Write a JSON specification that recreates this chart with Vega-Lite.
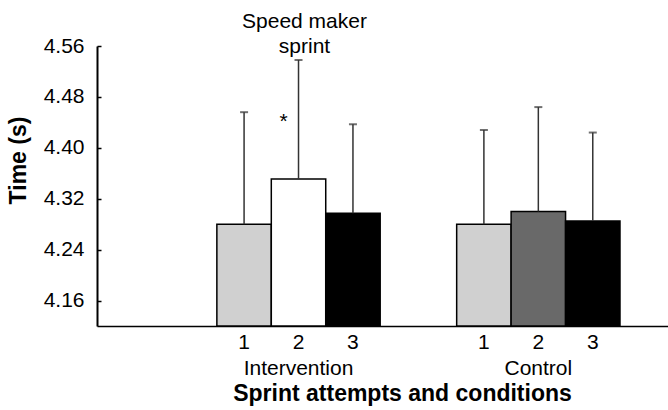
{
  "$schema": "https://vega.github.io/schema/vega-lite/v6.json",
  "autosize": "none",
  "padding": {"left": 97, "top": 46, "right": 0, "bottom": 84},
  "width": 571,
  "height": 280,
  "config": {
    "font": "Liberation Sans",
    "view": {"stroke": null},
    "axis": {"grid": false}
  },
  "data": {
    "values": [
      {"condition": "Intervention", "attempt": "1", "mean": 4.280, "upper": 4.456},
      {"condition": "Intervention", "attempt": "2", "mean": 4.351, "upper": 4.538, "note": "Speed maker\nsprint", "star": "*"},
      {"condition": "Intervention", "attempt": "3", "mean": 4.297, "upper": 4.437},
      {"condition": "Control", "attempt": "1", "mean": 4.280, "upper": 4.428},
      {"condition": "Control", "attempt": "2", "mean": 4.300, "upper": 4.464},
      {"condition": "Control", "attempt": "3", "mean": 4.285, "upper": 4.424}
    ]
  },
  "transform": [{"calculate": "datum.condition + ' ' + datum.attempt", "as": "key"}],
  "encoding": {
    "x": {
      "field": "condition",
      "type": "nominal",
      "sort": ["Intervention", "Control"],
      "scale": {"paddingInner": 0.319, "paddingOuter": 0.35, "align": 0.714},
      "axis": {
        "title": "Sprint attempts and conditions",
        "titleFontSize": 23,
        "titleFontWeight": "bold",
        "titleColor": "#000",
        "titleBaseline": "top",
        "titleY": 56,
        "titleX": 305,
        "titleAlign": "center",
        "labelAngle": 0,
        "labelFontSize": 21,
        "labelColor": "#000",
        "labelPadding": 31,
        "ticks": false,
        "tickSize": 0,
        "domainColor": "#000",
        "domainWidth": 1.5
      }
    },
    "xOffset": {"field": "attempt", "type": "nominal", "sort": ["1", "2", "3"], "scale": {"paddingInner": 0, "paddingOuter": 0}}
  },
  "layer": [
    {
      "mark": {"type": "bar", "stroke": "#000", "strokeWidth": 1.5},
      "encoding": {
        "y": {
          "field": "mean",
          "type": "quantitative",
          "scale": {"domain": [4.12, 4.56], "zero": false, "nice": false},
          "axis": {
            "title": "Time (s)",
            "titleFontSize": 23,
            "titleFontWeight": "bold",
            "titleColor": "#000",
            "titleY": 114,
            "titlePadding": 13,
            "values": [4.16, 4.2, 4.24, 4.28, 4.32, 4.36, 4.4, 4.44, 4.48, 4.52, 4.56],
            "labelExpr": "(round(datum.value*100) % 8 == 0) ? format(datum.value, '.2f') : ''",
            "labelFontSize": 21,
            "labelColor": "#000",
            "labelPadding": 17,
            "tickSize": -4,
            "tickColor": "#000",
            "tickWidth": 1.5,
            "domainColor": "#000",
            "domainWidth": 2
          }
        },
        "y2": {"datum": 4.12},
        "fill": {
          "field": "key",
          "type": "nominal",
          "scale": {
            "domain": ["Intervention 1", "Intervention 2", "Intervention 3", "Control 1", "Control 2", "Control 3"],
            "range": ["#d0d0d0", "#ffffff", "#000000", "#d0d0d0", "#696969", "#000000"]
          },
          "legend": null
        }
      }
    },
    {
      "mark": {"type": "rule", "color": "#333", "strokeWidth": 1.5},
      "encoding": {
        "y": {"field": "mean", "type": "quantitative"},
        "y2": {"field": "upper"}
      }
    },
    {
      "mark": {"type": "tick", "color": "#333", "size": 8, "thickness": 2},
      "encoding": {
        "y": {"field": "upper", "type": "quantitative"}
      }
    },
    {
      "mark": {"type": "text", "fontSize": 21, "baseline": "top", "dy": 6, "color": "#000"},
      "encoding": {
        "y": {"datum": 4.12},
        "text": {"field": "attempt"}
      }
    },
    {
      "transform": [{"filter": "datum.note"}],
      "mark": {"type": "text", "fontSize": 21, "baseline": "alphabetic", "align": "center", "dy": -18, "dx": 6, "lineBreak": "\n", "lineHeight": 25, "color": "#000"},
      "encoding": {
        "y": {"datum": 4.56},
        "text": {"field": "note"}
      }
    },
    {
      "transform": [{"filter": "datum.star"}],
      "mark": {"type": "text", "fontSize": 21, "baseline": "middle", "align": "center", "dy": 62, "dx": -15, "color": "#000"},
      "encoding": {
        "y": {"field": "upper", "type": "quantitative"},
        "text": {"field": "star"}
      }
    }
  ]
}
